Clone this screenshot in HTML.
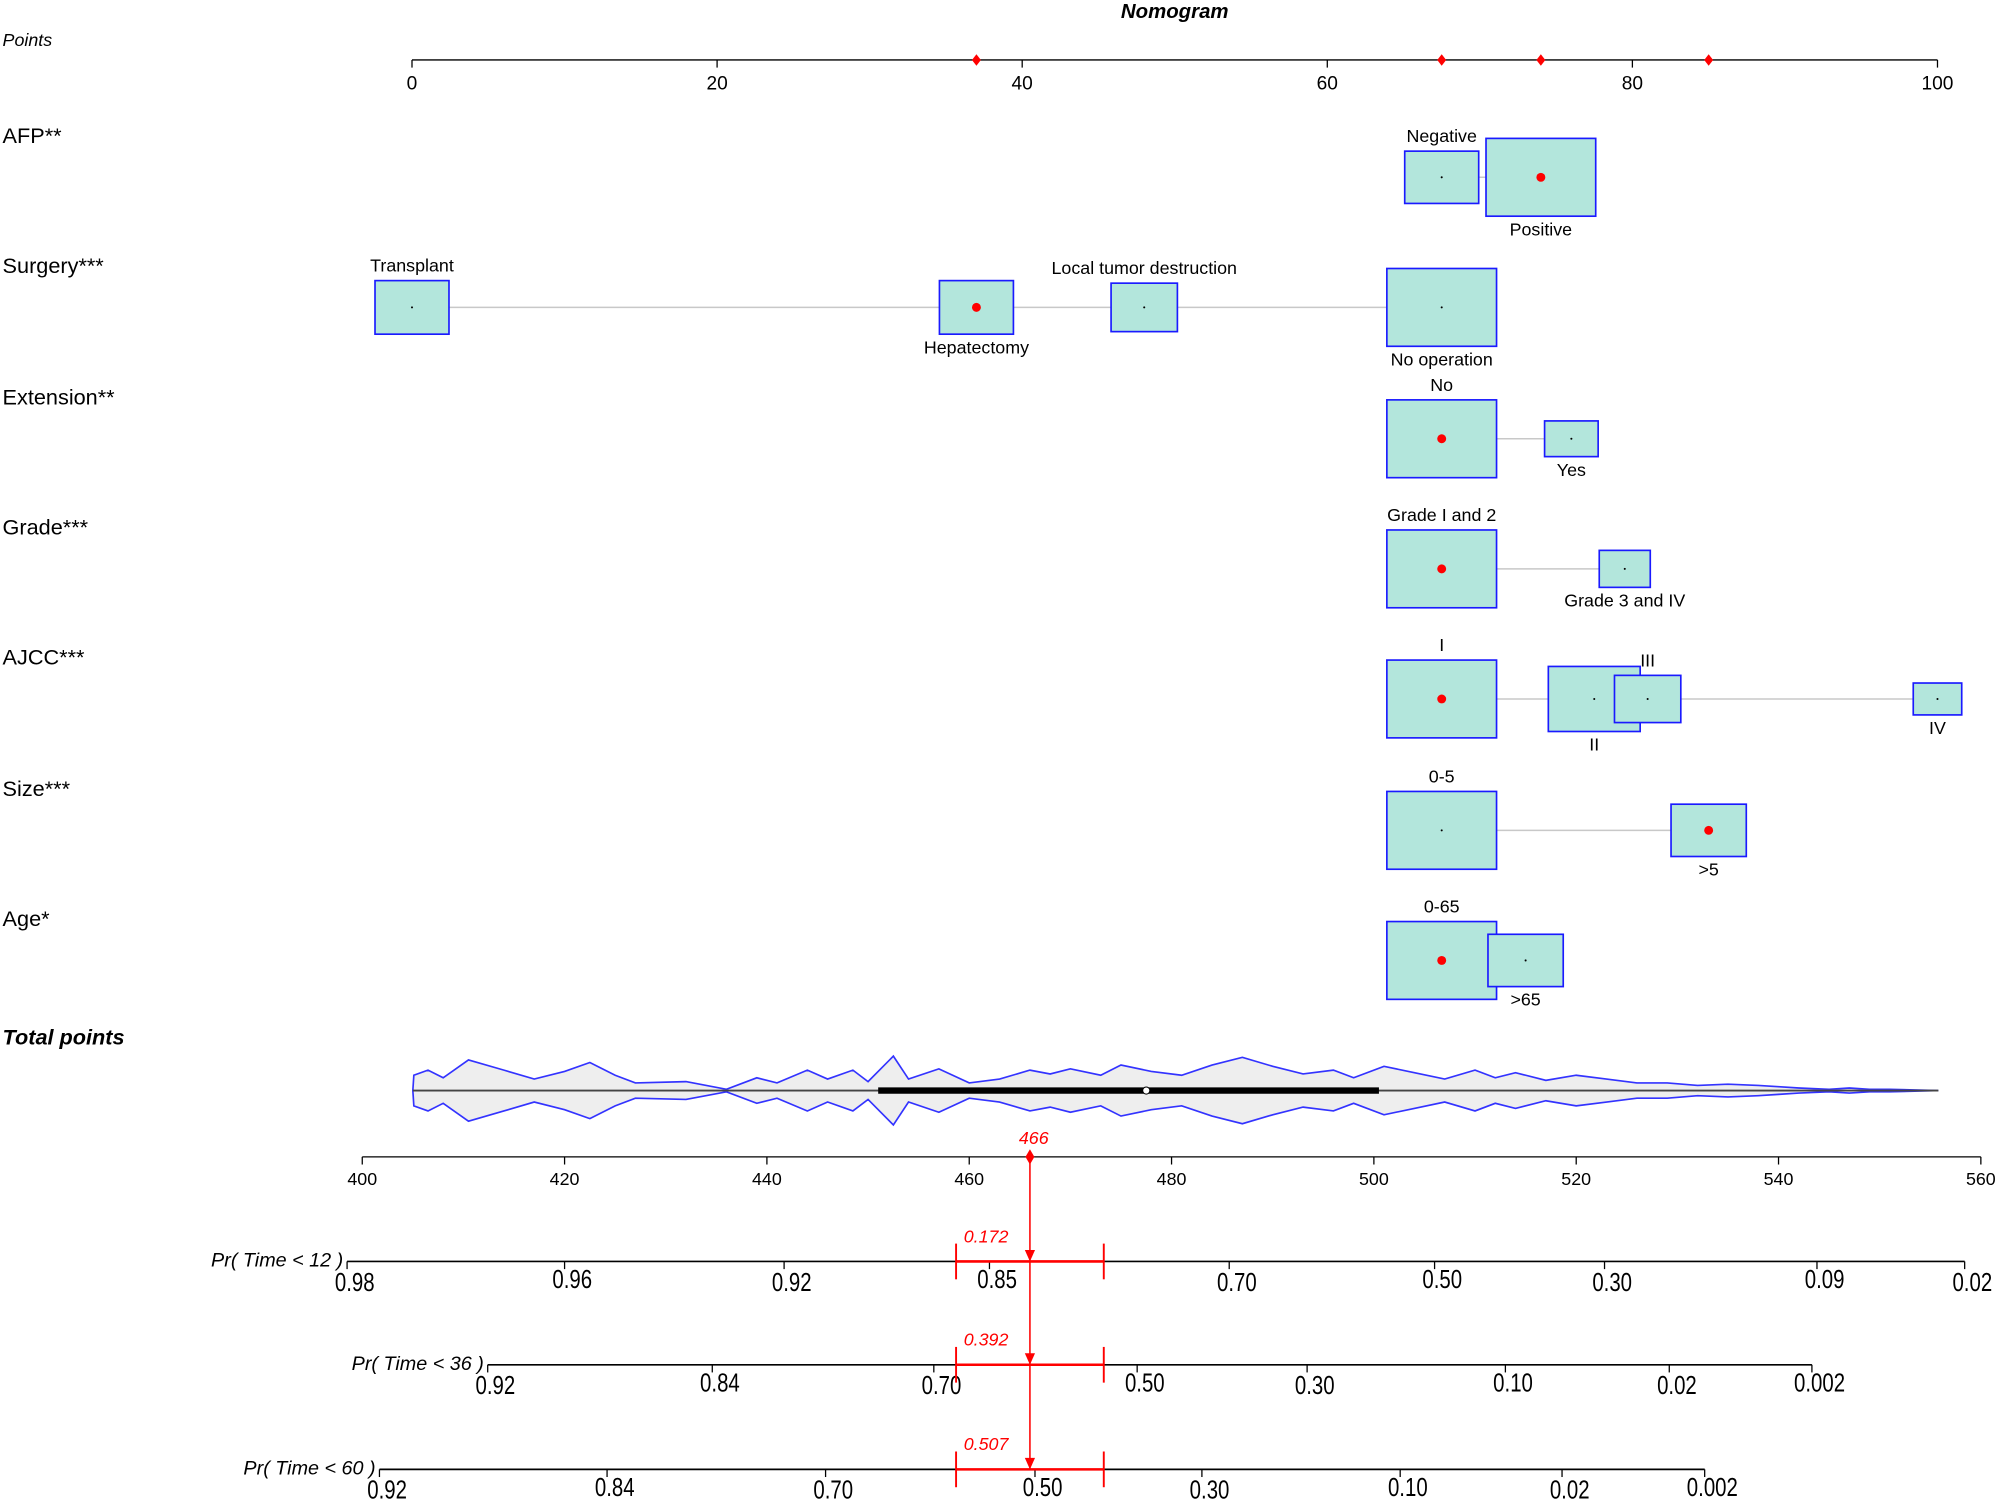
<!DOCTYPE html>
<html><head><meta charset="utf-8"><style>
html,body{margin:0;padding:0;background:#fff}
svg{display:block}
text{font-family:"Liberation Sans",sans-serif}
</style></head><body>
<svg id="chart" width="2000" height="1501" viewBox="0 0 1568 1176.8" xmlns="http://www.w3.org/2000/svg">
<rect width="1568" height="1177" fill="#fff"/>
<text x="921" y="14" font-size="16" font-weight="bold" font-style="italic" text-anchor="middle">Nomogram</text>
<g id="g"></g>
</svg>
<script>
const NS="http://www.w3.org/2000/svg";
const gRoot=document.getElementById('g');
function el(tag,attrs,t){const e=document.createElementNS(NS,tag);for(const k in attrs)e.setAttribute(k,attrs[k]);if(t!==undefined)e.textContent=t;gRoot.appendChild(e);return e;}
function txt(x,y,s,size,extra,name){const e=el('text',Object.assign({x:x,y:y,'font-size':size},extra||{}),s);return e;}

// ---------- data ----------
const pointTicks=[0,20,40,60,80,100];
const pointLabels=[0,20,40,60,80,100];
const selectedPoints=[37,67.5,74,85];
const variables=["AFP**","Surgery***","Extension**","Grade***","AJCC***","Size***","Age*"];
const rowY=[139,241,344,446,548,651,753];
const levelNames=[["Negative","Positive"],["Transplant","Hepatectomy","Local tumor destruction","No operation"],["No","Yes"],["Grade I and 2","Grade 3 and IV"],["I","II","III","IV"],["0-5",">5"],["0-65",">65"]];
const levelPoints=[[67.5,74],[0,37,48,67.5],[67.5,76],[67.5,79.5],[67.5,77.5,81,100],[67.5,85],[67.5,73]];
const levelSizes=[[41,61],[42,42,38,61],[61,28],[61,29],[61,51,37,25],[61,41],[61,41]];
const levelWidths=[[58,86],[58,58,52,86],[86,42],[86,40],[86,72,52,38],[86,59],[86,59]];
const levelSelected=[1,1,0,0,0,1,0];
const labelSide=[[-1,1],[-1,1,-1,1],[-1,1],[-1,1],[-1,1,-1,1],[-1,1],[-1,1]];
const totalTicks=[400,420,440,460,480,500,520,540,560];
const violinPts=[405,405.1,406.5,408,410.5,414,417,420,422.5,425,427,432,436,439,441,444,446,448.5,450,452.5,454,457,460,463,466,468,470,473,475,478,481,484,487,490,493,496,498,501,504,507,510,512,514,517,520,523,526,529,532,535,538,540,542,545,547,549,551,555.8];
const violinHalf=[0,12,16,10,24,16,9,15,22,12,6,7,1,10,6,16,9,16,7,27,9,17,6,9,16,13,17,12,20,15,12,20,26,19,13,16,10,19,14,9,16,10,14,8,12,9,6,6,4,5,4,3,2,1,2,1,1,0];
const boxLow=451, boxHigh=500.5, boxMedian=477.5;
const selectedTotal=466;
const probNames=["Pr( Time < 12 )","Pr( Time < 36 )","Pr( Time < 60 )"];
const probValues=["0.172","0.392","0.507"];
const probTickLabels=[["0.98","0.96","0.92","0.85","0.70","0.50","0.30","0.09","0.02"],["0.92","0.84","0.70","0.50","0.30","0.10","0.02","0.002"],["0.92","0.84","0.70","0.50","0.30","0.10","0.02","0.002"]];
const probTickTotals=[[398.5,420,441.7,462,485.7,506,522.8,543.8,558.4],[412.4,434.6,456.5,476.6,493.4,513,529.2,543.3],[401.7,424.2,445.8,466.5,483,502.6,518.6,532.7]];
const ciLow=458.7, ciHigh=473.3;

// ---------- axes ----------
const px=p=>323+p*11.96;
const tx=v=>284+(v-400)*1269/160;
const probY=[989,1070,1152];

// points axis
const pAxis=el('line',{x1:px(0),x2:px(100),y1:47,y2:47,stroke:'#000','stroke-width':1});


pointTicks.forEach(t=>{const l=el('line',{x1:px(t),x2:px(t),y1:47,y2:53,stroke:'#000'});});
pointLabels.forEach(t=>txt(px(t),70,String(t),15,{'text-anchor':'middle'},'points-tick-label'));
selectedPoints.forEach(p=>{const c=el('path',{d:`M${px(p)},42.5 l3.5,4.5 l-3.5,4.5 l-3.5,-4.5z`,fill:'#f00'});});
txt(2,36,"Points",14,{'font-style':'italic'},'points-axis-title');

// variables
variables.forEach((v,i)=>{
  const y=rowY[i];
  txt(2,y-27,v,17,{},'variable-label');
  const xs=levelPoints[i].map(px);
  const ln=el('line',{x1:Math.min(...xs),x2:Math.max(...xs),y1:y,y2:y,stroke:'#c8c8c8','stroke-width':1.2});
  
  
  levelNames[i].forEach((n,j)=>{
    const cx=xs[j],h=levelSizes[i][j],w=levelWidths[i][j];
    const r=el('rect',{x:cx-w/2,y:y-h/2,width:w,height:h,fill:'#b3e6dc',stroke:'#1a1aff','stroke-width':1.3});
    
    
    if(levelSelected[i]===j){const c=el('circle',{cx:cx,cy:y,r:3.5,fill:'#f00'});}
    else{const c=el('circle',{cx:cx,cy:y,r:0.8,fill:'#000'});}
    const side=labelSide[i][j];
    const ly=side<0?y-h/2-7:y+h/2+15;
    txt(cx,ly,n,14,{'text-anchor':'middle'},'level-label');
  });
});

// total points
txt(2,819,"Total points",17,{'font-weight':'bold','font-style':'italic'},'total-points-title');
const vy=855;
let violinPath='';
violinPts.forEach((p,k)=>{violinPath+=(k?'L':'M')+tx(p)+','+(vy-violinHalf[k]);});
for(let k=violinPts.length-1;k>=0;k--){violinPath+='L'+tx(violinPts[k])+','+(vy+violinHalf[k]);}
const vp=el('path',{d:violinPath+'Z',fill:'#eeeeee',stroke:'#3333ff','stroke-width':1.3});


const vl=el('line',{x1:tx(405),x2:tx(555.8),y1:vy,y2:vy,stroke:'#444','stroke-width':1.5});


const bx=el('line',{x1:tx(boxLow),x2:tx(boxHigh),y1:vy,y2:vy,stroke:'#000','stroke-width':5});


const md=el('circle',{cx:tx(boxMedian),cy:vy,r:2.8,fill:'#fff',stroke:'#000','stroke-width':0.8});



const ta=el('line',{x1:tx(400),x2:tx(560),y1:907,y2:907,stroke:'#000'});


totalTicks.forEach(t=>{const l=el('line',{x1:tx(t),x2:tx(t),y1:907,y2:913,stroke:'#000'});txt(tx(t),929,String(t),14,{'text-anchor':'middle'},'total-points-tick-label');});
txt(tx(selectedTotal)+3,897,String(selectedTotal),14,{'text-anchor':'middle','font-style':'italic',fill:'#f00'},'selected-total-label');
const sd=el('path',{d:`M${tx(selectedTotal)},901 l3.5,6 l-3.5,6 l-3.5,-6z`,fill:'#f00'});


const rl=el('line',{x1:tx(selectedTotal),x2:tx(selectedTotal),y1:907,y2:probY[2],stroke:'#f00','stroke-width':1.2});



// probability axes
probNames.forEach((n,i)=>{
  const y=probY[i],tt=probTickTotals[i];
  txt(tx(tt[0])-3,y+4,n,15.5,{'text-anchor':'end','font-style':'italic'},'probability-axis-title');
  const l=el('line',{x1:tx(tt[0]),x2:tx(tt[tt.length-1]),y1:y,y2:y,stroke:'#000','stroke-width':1.3});
  
  
  tt.forEach((t,k)=>{
    const tk=el('line',{x1:tx(t),x2:tx(t),y1:y,y2:y+6,stroke:'#000'});
    
    
    const lx=tx(t)+6, ly=y+23-(k%2?2:0);
    txt(lx,ly,probTickLabels[i][k],20,{'text-anchor':'middle','font-family':'Liberation Serif',transform:`translate(${lx},${ly}) scale(0.8,1) translate(${-lx},${-ly})`},'probability-tick-label');
  });
  const ci=el('line',{x1:tx(ciLow),x2:tx(ciHigh),y1:y,y2:y,stroke:'#f00','stroke-width':2});
  
  
  [ciLow,ciHigh].forEach(c=>{const e=el('line',{x1:tx(c),x2:tx(c),y1:y-14,y2:y+14,stroke:'#f00','stroke-width':1.5});});
  const ar=el('path',{d:`M${tx(selectedTotal)},${y} l-4,-9 l8,0z`,fill:'#f00'});
  
  
  txt(tx(ciLow)+6,y-15,probValues[i],14,{'font-style':'italic',fill:'#f00'},'probability-value');
});
</script>
</body></html>
